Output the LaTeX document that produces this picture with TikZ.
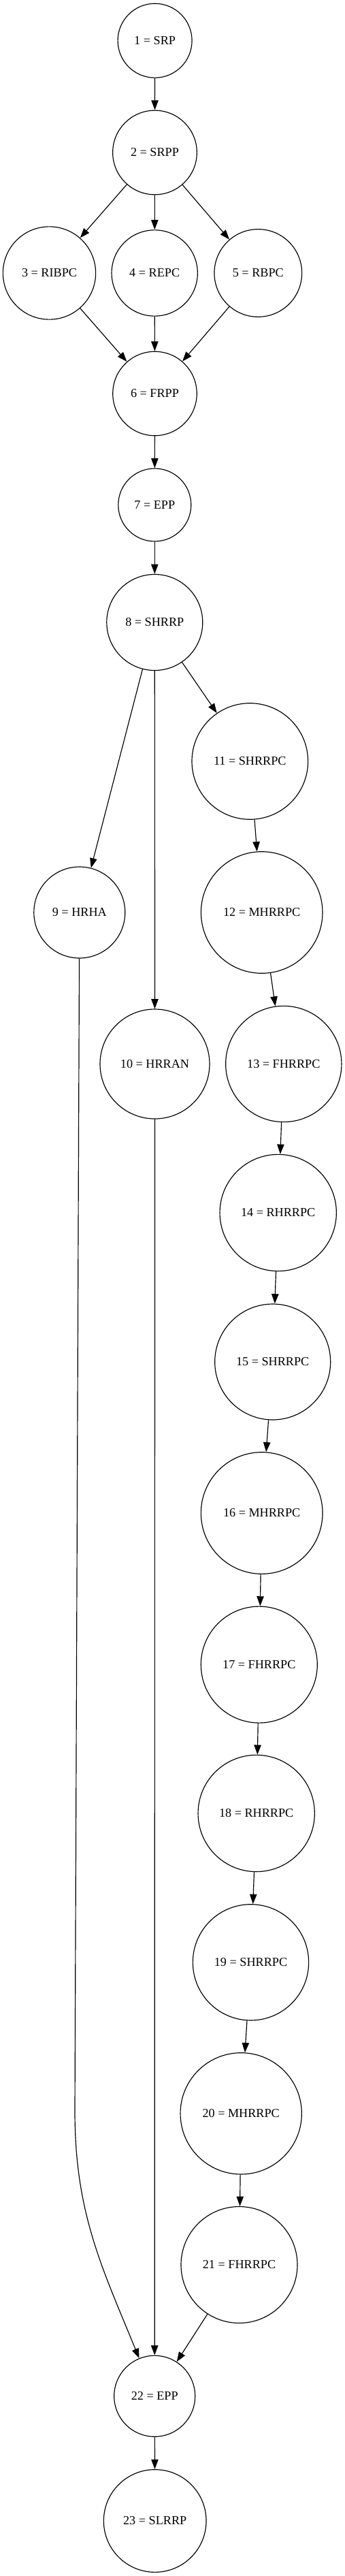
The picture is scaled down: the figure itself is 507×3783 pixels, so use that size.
\documentclass[tikz,border=0pt]{standalone}
\usepackage{fontspec}
\setmainfont{Liberation Serif}
\usepackage{tikz}
\usetikzlibrary{arrows.meta,shapes,positioning,calc}
\tikzset{>={Triangle[length=11pt,width=8pt]}}

\begin{document}
\begin{tikzpicture}[x=0.77pt, y=-0.77pt, line width=0.9pt,
		proc/.style={circle, draw, inner sep=0pt, minimum size=#1*0.77pt, font=\fontsize{14pt}{16pt}\selectfont}]
	\useasboundingbox (0,0) rectangle (507,3783);
	\node[proc=109] (n1) at (227.6,59.7) {1 = SRP};
	\node[proc=123.7] (n2) at (227.5,224) {2 = SRPP};
	\node[proc=136.3] (n3) at (72.5,401) {3 = RIBPC};
	\node[proc=126.3] (n4) at (227.2,401) {4 = REPC};
	\node[proc=128.7] (n5) at (379.3,401) {5 = RBPC};
	\node[proc=123.5] (n6) at (227.5,578) {6 = FRPP};
	\node[proc=107] (n7) at (227.3,741.5) {7 = EPP};
	\node[proc=141] (n8) at (227.3,914) {8 = SHRRP};
	\node[proc=134] (n9) at (116.8,1340) {9 = HRHA};
	\node[proc=161] (n10) at (227.5,1562.5) {10 = HRRAN};
	\node[proc=170.6] (n11) at (367.3,1118) {11 = SHRRPC};
	\node[proc=178.6] (n12) at (384.7,1340) {12 = MHRRPC};
	\node[proc=170.3] (n13) at (416.8,1562.5) {13 = FHRRPC};
	\node[proc=171.3] (n14) at (408.7,1781) {14 = RHRRPC};
	\node[proc=170] (n15) at (400.7,2000) {15 = SHRRPC};
	\node[proc=178.7] (n16) at (384.7,2222) {16 = MHRRPC};
	\node[proc=171] (n17) at (380.8,2444.6) {17 = FHRRPC};
	\node[proc=171.3] (n18) at (376.7,2663) {18 = RHRRPC};
	\node[proc=170.3] (n19) at (368.5,2881.8) {19 = SHRRPC};
	\node[proc=178.3] (n20) at (354.2,3103.8) {20 = MHRRPC};
	\node[proc=171] (n21) at (351.5,3326) {21 = FHRRPC};
	\node[proc=119] (n22) at (227.2,3518.8) {22 = EPP};
	\node[proc=150.7] (n23) at (227.7,3702) {23 = SLRRP};
	\coordinate (k9) at (110,3100);

	\draw[->] (n1) -- (n2);
	\draw[->] (n2) -- (n3);
	\draw[->] (n2) -- (n4);
	\draw[->] (n2) -- (n5);
	\draw[->] (n3) -- (n6);
	\draw[->] (n4) -- (n6);
	\draw[->] (n5) -- (n6);
	\draw[->] (n6) -- (n7);
	\draw[->] (n7) -- (n8);
	\draw[->] (n8) -- (n9);
	\draw[->] (n8) -- (n10);
	\draw[->] (n8) -- (n11);
	\draw[->] (n11) -- (n12);
	\draw[->] (n12) -- (n13);
	\draw[->] (n13) -- (n14);
	\draw[->] (n14) -- (n15);
	\draw[->] (n15) -- (n16);
	\draw[->] (n16) -- (n17);
	\draw[->] (n17) -- (n18);
	\draw[->] (n18) -- (n19);
	\draw[->] (n19) -- (n20);
	\draw[->] (n20) -- (n21);
	\draw[->] (n9) -- (k9) .. controls (110,3250) and (150,3330) .. (n22);
	\draw[->] (n10) -- (n22);
	\draw[->] (n21) -- (n22);
	\draw[->] (n22) -- (n23);
\end{tikzpicture}
\end{document}
